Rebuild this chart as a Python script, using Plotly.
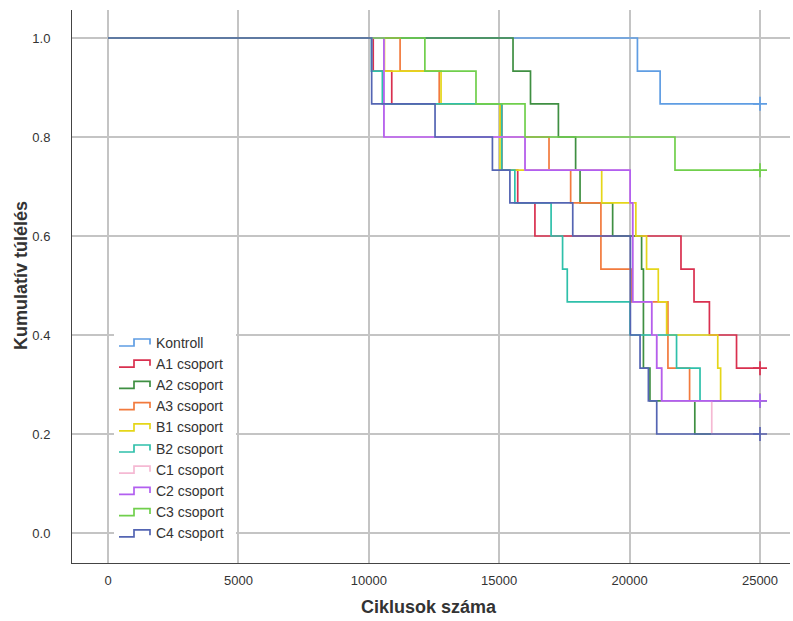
import plotly.graph_objects as go

# Kaplan-Meier step data: event times (cycles) and cumulative survival after each event.
# The last point of each group is the censoring time at 25000 cycles.
GROUPS = ["Kontroll", "A1 csoport", "A2 csoport", "A3 csoport", "B1 csoport",
          "B2 csoport", "C1 csoport", "C2 csoport", "C3 csoport", "C4 csoport"]

KONTROLL_T = [0, 20300, 21170, 25000]
KONTROLL_S = [1.0, 0.933, 0.867, 0.867]

A1_T = [0, 10170, 10880, 15100, 15710, 16370, 21970, 22470, 23060, 24100, 25000]
A1_S = [1.0, 0.933, 0.867, 0.733, 0.667, 0.6, 0.533, 0.467, 0.4, 0.333, 0.333]

A2_T = [0, 15530, 16200, 17270, 17930, 18100, 19350, 20460, 20530, 20780, 22500, 25000]
A2_S = [1.0, 0.933, 0.867, 0.8, 0.733, 0.667, 0.6, 0.533, 0.333, 0.267, 0.2, 0.2]

A3_T = [0, 11200, 12700, 15050, 16910, 17740, 18900, 20080, 21470, 22300, 25000]
A3_S = [1.0, 0.933, 0.867, 0.8, 0.733, 0.667, 0.533, 0.467, 0.333, 0.267, 0.267]

B1_T = [0, 10600, 12770, 15030, 18930, 20240, 20650, 21100, 21420, 23380, 23490, 25000]
B1_S = [1.0, 0.933, 0.867, 0.733, 0.667, 0.6, 0.533, 0.467, 0.4, 0.333, 0.267, 0.267]

B2_T = [0, 10100, 10520, 15100, 15600, 16990, 17430, 17610, 20020, 21800, 22700, 25000]
B2_S = [1.0, 0.933, 0.867, 0.733, 0.667, 0.6, 0.533, 0.467, 0.4, 0.333, 0.267, 0.267]

C1_T = [0, 10580, 15990, 20020, 20120, 20850, 21040, 21230, 23150, 25000]
C1_S = [1.0, 0.8, 0.733, 0.667, 0.467, 0.4, 0.333, 0.267, 0.2, 0.2]

C2_T = [0, 10580, 15990, 20020, 20120, 20850, 21040, 21230, 25000]
C2_S = [1.0, 0.8, 0.733, 0.667, 0.467, 0.4, 0.333, 0.267, 0.267]

C3_T = [0, 12150, 14110, 15990, 21740, 25000]
C3_S = [1.0, 0.933, 0.867, 0.8, 0.733, 0.733]

C4_T = [0, 10110, 12540, 14740, 15410, 17820, 20030, 20400, 20720, 21040, 25000]
C4_S = [1.0, 0.867, 0.8, 0.733, 0.667, 0.6, 0.4, 0.333, 0.267, 0.2, 0.2]

X_TICKS = [0, 5000, 10000, 15000, 20000, 25000]
X_TICK_LABELS = ["0", "5000", "10000", "15000", "20000", "25000"]
Y_TICKS = [0.0, 0.2, 0.4, 0.6, 0.8, 1.0]
Y_TICK_LABELS = ["0.0", "0.2", "0.4", "0.6", "0.8", "1.0"]

COLORS = ["#5f9de3", "#d9304f", "#3f8f42", "#f27a3d", "#e5d619",
          "#2fc0aa", "#f5b9d3", "#b25ff0", "#70cf4c", "#5465b3"]

SERIES = [(KONTROLL_T, KONTROLL_S), (A1_T, A1_S), (A2_T, A2_S), (A3_T, A3_S),
          (B1_T, B1_S), (B2_T, B2_S), (C1_T, C1_S), (C2_T, C2_S),
          (C3_T, C3_S), (C4_T, C4_S)]

FONT = "Liberation Sans, Arial, sans-serif"
W, H = 793, 621
ML, MR, MT, MB = 72, 3, 10, 58
PW, PH = W - ML - MR, H - MT - MB

fig = go.Figure()
for name, color, (t, s) in zip(GROUPS, COLORS, SERIES):
    fig.add_trace(go.Scatter(x=t, y=s, mode="lines", name=name,
                             line=dict(color=color, width=1.7, shape="hv"),
                             showlegend=False, hoverinfo="skip"))
    # censored observations at the end of follow-up
    fig.add_trace(go.Scatter(x=[t[-1]], y=[s[-1]], mode="markers",
                             marker=dict(symbol="cross-thin", size=10,
                                         line=dict(color=color, width=1.7)),
                             showlegend=False, hoverinfo="skip"))


def px_x(p):
    return (p - ML) / PW


def px_y(p):
    return (H - MB - p) / PH


# legend panel: white background, step-shaped keys and labels
shapes = [dict(type="rect", xref="paper", yref="paper",
               x0=px_x(114), x1=px_x(236), y0=px_y(546), y1=px_y(329),
               fillcolor="white", line=dict(width=0), layer="above")]
annotations = []
row0, row_gap = 342.5, 21.2
for i, (name, color) in enumerate(zip(GROUPS, COLORS)):
    cy = row0 + i * row_gap
    lo, hi = cy + 3.5, cy - 3.5
    path = (f"M {px_x(119)} {px_y(lo)} L {px_x(134)} {px_y(lo)} "
            f"L {px_x(134)} {px_y(hi)} L {px_x(150)} {px_y(hi)} "
            f"L {px_x(150)} {px_y(cy + 2)}")
    shapes.append(dict(type="path", xref="paper", yref="paper", path=path,
                       line=dict(color=color, width=1.7), layer="above"))
    annotations.append(dict(x=px_x(154), y=px_y(cy), xref="paper", yref="paper",
                            text=name, showarrow=False, xanchor="left",
                            yanchor="middle",
                            font=dict(size=14, color="#333333", family=FONT)))

annotations.append(dict(x=px_x(429), y=px_y(607), xref="paper", yref="paper",
                        text="<b>Ciklusok száma</b>", showarrow=False,
                        xanchor="center", yanchor="middle",
                        font=dict(size=18, color="#333333", family=FONT)))
annotations.append(dict(x=px_x(21), y=px_y(276), xref="paper", yref="paper",
                        text="<b>Kumulatív túlélés</b>", showarrow=False,
                        textangle=-90, xanchor="center", yanchor="middle",
                        font=dict(size=18, color="#333333", family=FONT)))

axis_font = dict(size=13, color="#333333", family=FONT)
fig.update_layout(
    width=W, height=H,
    margin=dict(l=ML, r=MR, t=MT, b=MB, pad=0),
    paper_bgcolor="white", plot_bgcolor="white",
    shapes=shapes, annotations=annotations,
    xaxis=dict(range=[-1380, 26150], tickvals=X_TICKS, ticktext=X_TICK_LABELS,
               ticks="", showgrid=True, gridcolor="#c4c4c4", gridwidth=2,
               zeroline=False, showline=True, linecolor="#444444", linewidth=1,
               tickfont=axis_font, ticklabelstandoff=5, fixedrange=True),
    yaxis=dict(range=[-0.0606, 1.0566], tickvals=Y_TICKS, ticktext=Y_TICK_LABELS,
               ticks="", showgrid=True, gridcolor="#c4c4c4", gridwidth=2,
               zeroline=False, showline=True, linecolor="#444444", linewidth=1,
               tickfont=axis_font, ticklabelstandoff=18, fixedrange=True),
    showlegend=False,
)

fig.write_html("out.html")
